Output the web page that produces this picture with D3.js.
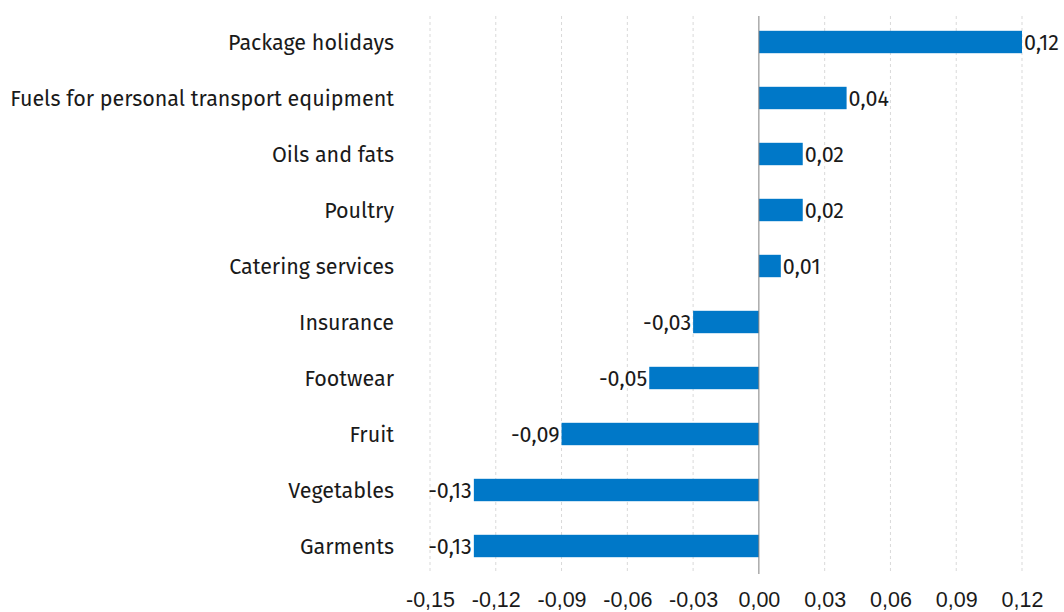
<!DOCTYPE html>
<meta charset="utf-8">
<style>
  body { margin: 0; background: #fff; }
  svg { font-family: "Fira Sans", "Noto Sans", sans-serif; }
</style>
<svg width="1064" height="612"></svg>
<script src="https://d3js.org/d3.v7.min.js"></script>
<script>

var categories = ["Package holidays", "Fuels for personal transport equipment", "Oils and fats",
    "Poultry", "Catering services", "Insurance", "Footwear", "Fruit", "Vegetables", "Garments"];
var values = [0.12, 0.04, 0.02, 0.02, 0.01, -0.03, -0.05, -0.09, -0.13, -0.13];
var ticks = [-0.15, -0.12, -0.09, -0.06, -0.03, 0, 0.03, 0.06, 0.09, 0.12];

var svg = d3.select("svg");
var fontSize = 21.5;
var fmt = function(d) { return d3.format(".2f")(d).replace(".", ",").replace("−", "-"); };

var x = d3.scaleLinear().domain([-0.15, 0.12]).range([430, 1022]);
var y = d3.scaleBand().domain(categories).range([14, 574]).paddingInner(0.6).paddingOuter(0.3);

// dashed gridlines
svg.append("g")
    .selectAll("line")
    .data(ticks.filter(function(d) { return d != 0; }))
    .enter().append("line")
    .attr("x1", function(d) { return x(d); })
    .attr("x2", function(d) { return x(d); })
    .attr("y1", 16).attr("y2", 574)
    .attr("stroke", "#d9d9d9")
    .attr("stroke-dasharray", "3,3");

// x axis labels
svg.append("g")
    .attr("transform", "translate(0,574)")
    .call(d3.axisBottom(x).tickValues(ticks).tickFormat(fmt).tickSize(0).tickPadding(18))
    .call(function(g) { g.select(".domain").remove(); })
    .selectAll("text")
    .attr("font-size", fontSize)
    .attr("font-family", null)
    .attr("fill", "#1a1a1a");

// bars
svg.append("g")
    .selectAll("rect")
    .data(values)
    .enter().append("rect")
    .attr("x", function(d) { return x(Math.min(0, d)); })
    .attr("y", function(d, i) { return y(categories[i]); })
    .attr("width", function(d) { return Math.abs(x(d) - x(0)); })
    .attr("height", y.bandwidth())
    .attr("fill", "#0078c8");

// zero line
svg.append("line")
    .attr("x1", x(0)).attr("x2", x(0))
    .attr("y1", 16).attr("y2", 574)
    .attr("stroke", "#7f7f7f");

// value labels
svg.append("g")
    .selectAll("text")
    .data(values)
    .enter().append("text")
    .attr("x", function(d) { return d >= 0 ? x(d) + 2 : x(d) - 2; })
    .attr("y", function(d, i) { return y(categories[i]) + y.bandwidth() / 2; })
    .attr("dy", "0.35em")
    .attr("text-anchor", function(d) { return d >= 0 ? "start" : "end"; })
    .attr("font-size", fontSize)
    .attr("fill", "#1a1a1a")
    .text(fmt);

// category labels
svg.append("g")
    .selectAll("text")
    .data(categories)
    .enter().append("text")
    .attr("x", 394)
    .attr("y", function(d) { return y(d) + y.bandwidth() / 2; })
    .attr("dy", "0.35em")
    .attr("text-anchor", "end")
    .attr("font-size", fontSize)
    .attr("fill", "#1a1a1a")
    .text(function(d) { return d; });

</script>
